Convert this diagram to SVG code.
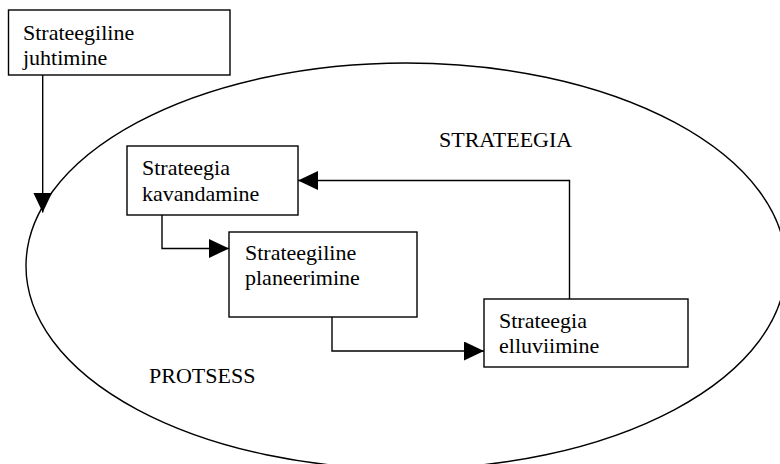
<svg xmlns="http://www.w3.org/2000/svg" width="780" height="464" viewBox="0 0 780 464">
  <style>
    .box { fill: #ffffff; stroke: #000000; stroke-width: 1.4; }
    .outline { fill: none; stroke: #000000; stroke-width: 1.4; }
    .wire { fill: none; stroke: #000000; stroke-width: 1.4; }
    text { font-family: "Liberation Serif", "Times New Roman", serif; font-size: 22px; fill: #000000; }
  </style>
  <defs>
    <marker id="head" markerUnits="userSpaceOnUse" markerWidth="21" markerHeight="20" refX="20" refY="9.5" orient="auto">
      <path d="M0,0 L20,9.5 L0,19 z" fill="#000000"/>
    </marker>
  </defs>

  <rect width="780" height="464" fill="#ffffff"/>

  <!-- process area -->
  <g id="process">
    <ellipse class="outline" cx="406" cy="266" rx="380" ry="203"/>
    <text x="439" y="147">STRATEEGIA</text>
    <text x="149" y="383">PROTSESS</text>
  </g>

  <!-- strategic management -->
  <g id="juhtimine">
    <rect class="box" x="8.5" y="10" width="221.5" height="65"/>
    <text x="23" y="40">Strateegiline</text>
    <text x="23" y="65">juhtimine</text>
  </g>

  <!-- strategy design -->
  <g id="kavandamine">
    <rect class="box" x="127" y="146" width="171" height="69"/>
    <text x="142" y="175">Strateegia</text>
    <text x="142" y="201">kavandamine</text>
  </g>

  <!-- strategic planning -->
  <g id="planeerimine">
    <rect class="box" x="229" y="232" width="188" height="85"/>
    <text x="245" y="260">Strateegiline</text>
    <text x="245" y="285">planeerimine</text>
  </g>

  <!-- strategy implementation -->
  <g id="elluviimine">
    <rect class="box" x="484" y="299" width="204" height="68"/>
    <text x="499" y="328">Strateegia</text>
    <text x="499" y="353">elluviimine</text>
  </g>

  <!-- connectors -->
  <g id="connectors">
    <path class="wire" d="M42.7,75 V212.5" marker-end="url(#head)"/>
    <path class="wire" d="M162,215 V248.5 H229" marker-end="url(#head)"/>
    <path class="wire" d="M332,317 V351 H484" marker-end="url(#head)"/>
    <path class="wire" d="M569.5,299 V180.5 H298" marker-end="url(#head)"/>
  </g>
</svg>
